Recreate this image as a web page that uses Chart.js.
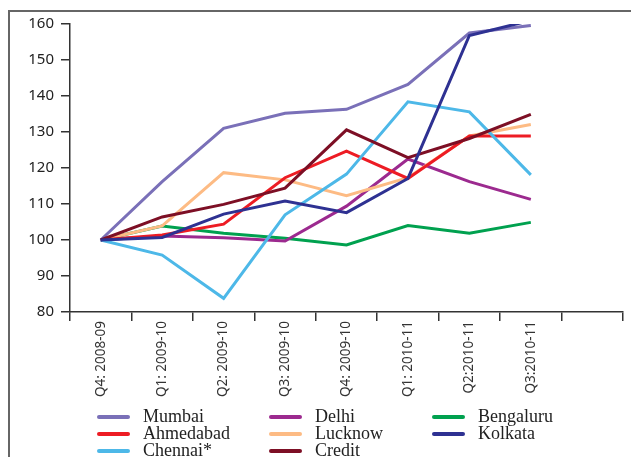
<!DOCTYPE html>
<html>
<head>
<meta charset="utf-8">
<script src="https://cdn.jsdelivr.net/npm/chart.js@4"></script>
<style>
  html,body{margin:0;padding:0;background:#fff;overflow:hidden;}
  #wrap{position:relative;width:631px;height:457px;overflow:hidden;}
  #frame{position:absolute;left:8px;top:10px;width:660px;height:480px;border:2px solid #666;box-sizing:border-box;}
  #c{position:absolute;left:0;top:0;}
  .lg{position:absolute;font-family:"Liberation Serif",serif;font-size:18px;line-height:17px;color:#222;white-space:nowrap;}
  .sw{position:absolute;width:33px;height:4px;border-radius:2px;}
</style>
</head>
<body>
<div id="wrap">
  <div id="frame"></div>
  <canvas id="c" width="631" height="457"></canvas>
  <div id="legend"></div>
</div>
<script>
// quarter labels (last slot is the empty category at the right end of the axis)
const quarters=['Q4: 2008-09','Q1: 2009-10','Q2: 2009-10','Q3: 2009-10','Q4: 2009-10','Q1: 2010-11','Q2:2010-11','Q3:2010-11',''];
const yTicks=[80,90,100,110,120,130,140,150,160];

const mumbai   =[100,116.2,131.0,135.2,136.3,143.2,157.5,159.6];
const ahmedabad=[100,101.4,104.4,117.3,124.7,117.1,128.9,128.9];
const chennai  =[100,95.8,83.8,107.0,118.3,138.4,135.6,118.1];
const delhi    =[100,101.1,100.6,99.7,109.4,122.5,116.2,111.3];
const lucknow  =[100,103.9,118.7,116.7,112.3,117.3,128.9,132.1];
const credit   =[100,106.4,109.9,114.4,130.6,122.9,128.2,134.9];
const bengaluru=[100,103.9,101.9,100.5,98.6,104.0,101.9,104.9];
const kolkata  =[100,100.7,107.2,110.8,107.6,117.1,156.8,161.0];

// legend goes column by column: Mumbai/Ahmedabad/Chennai*, Delhi/Lucknow/Credit, Bengaluru/Kolkata
const series=[
  {label:'Mumbai',data:mumbai,color:'#7a70b8'},
  {label:'Ahmedabad',data:ahmedabad,color:'#ed1c24'},
  {label:'Chennai*',data:chennai,color:'#4db8e8'},
  {label:'Delhi',data:delhi,color:'#9c2a8f'},
  {label:'Lucknow',data:lucknow,color:'#fdbb84'},
  {label:'Credit',data:credit,color:'#7d0f25'},
  {label:'Bengaluru',data:bengaluru,color:'#00a14f'},
  {label:'Kolkata',data:kolkata,color:'#2e3192'}
];

function buildLegend(){
  const host=document.getElementById('legend');
  const colX=[97,269,432], rowY=[417,434,451];
  series.forEach((s,i)=>{
    const col=Math.floor(i/3), row=i%3;
    const sw=document.createElement('div'); sw.className='sw';
    sw.style.left=colX[col]+'px'; sw.style.top=(rowY[row]-2)+'px'; sw.style.background=s.color;
    const tx=document.createElement('div'); tx.className='lg';
    tx.style.left=(colX[col]+46)+'px'; tx.style.top=(rowY[row]-9)+'px'; tx.textContent=s.label;
    host.appendChild(sw); host.appendChild(tx);
  });
}

function draw(){
  const order=['Kolkata','Credit','Mumbai','Chennai*','Ahmedabad','Lucknow','Delhi','Bengaluru'];
  const datasets=series.slice().sort((a,b)=>order.indexOf(a.label)-order.indexOf(b.label)).map(s=>({
    label:s.label,data:s.data,borderColor:s.color,backgroundColor:s.color,
    borderWidth:3,pointRadius:0,tension:0,fill:false,borderJoinStyle:'miter'
  }));
  new Chart(document.getElementById('c').getContext('2d'),{
    type:'line',
    data:{labels:quarters,datasets},
    options:{
      responsive:false,animation:false,devicePixelRatio:1,
      layout:{padding:{left:0,right:8,top:24,bottom:57}},
      plugins:{legend:{display:false},tooltip:{enabled:false},title:{display:false}},
      scales:{
        x:{
          offset:true,
          grid:{offset:true,drawOnChartArea:false,tickLength:9,color:'#333',lineWidth:1.5},
          border:{color:'#333',width:1.5},
          ticks:{minRotation:90,maxRotation:90,autoSkip:false,padding:0,color:'#333',
            font:{family:'"Noto Sans", sans-serif',size:13.5}},
          afterFit:s=>{s.height=88;}
        },
        y:{
          min:80,max:160,
          afterBuildTicks:s=>{s.ticks=yTicks.map(v=>({value:v}));},
          grid:{drawOnChartArea:false,tickLength:9,color:'#333',lineWidth:1.5},
          border:{color:'#333',width:1.5},
          ticks:{padding:7,color:'#222',font:{family:'"Noto Sans", sans-serif',size:15}},
          afterFit:s=>{s.width=70;}
        }
      }
    }
  });
}
buildLegend();
draw();
</script>
</body>
</html>
